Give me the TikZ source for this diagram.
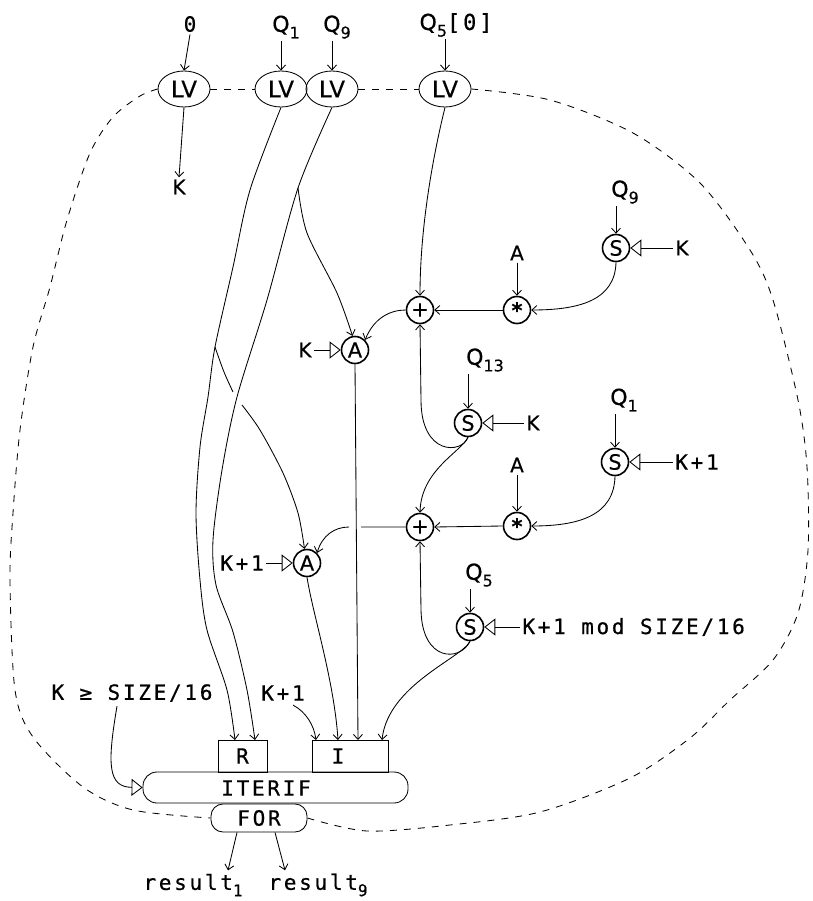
\documentclass[tikz,border=0pt]{standalone}
\usepackage{fontspec}
\usetikzlibrary{arrows.meta,shapes.geometric,calc}
\newfontfamily\monof{DejaVu Sans Mono}[LetterSpace=13,FakeBold=0.6]
\newfontfamily\sansf{DejaVu Sans}[FakeBold=0.4]
\newcommand\sbs[1]{\raisebox{-0.55ex}{\fontsize{16}{16}\selectfont #1}}
\begin{document}
\begin{tikzpicture}[x=1pt,y=-1pt,
  line width=0.85pt,
  >={Straight Barb[length=5pt,width=9pt]},
  tri/.style={-{Triangle[open,length=11pt,width=17pt]}},
  lv/.style={ellipse,draw,minimum width=52pt,minimum height=36pt,inner sep=0pt,font=\sansf\fontsize{23}{23}\selectfont},
  op/.style={circle,draw,line width=1.6pt,minimum size=27pt,inner sep=0pt,font=\sansf\fontsize{21}{21}\selectfont},
  lab/.style={inner sep=2pt,font=\sansf\fontsize{20}{20}\selectfont},
  qlab/.style={inner sep=2pt,font=\sansf\fontsize{22}{22}\selectfont},
  mlab/.style={inner sep=2pt,font=\monof\fontsize{21}{21}\selectfont},
  boxn/.style={draw,rectangle,inner sep=0pt,font=\monof\fontsize{21}{21}\selectfont},
  dashloop/.style={dash pattern=on 7pt off 7pt}
]
\useasboundingbox (0,0) rectangle (812,901);

% LV nodes
\node[lv] (lv1) at (184,89) {LV};
\node[lv] (lv2) at (281,89) {LV};
\node[lv] (lv3) at (332,89) {LV};
\node[lv] (lv4) at (445,89) {LV};

\node[mlab] (l0) at (190,24) {0};
\node[qlab] (lq1) at (286,27) {Q\sbs{1}};
\node[qlab] (lq9) at (337,27) {Q\sbs{9}};
\node[qlab] (lq5) at (456,25) {Q\sbs{5}{\monof[0]}};
\node[lab] (k0) at (179,187) {K};

\draw[->] (l0.south) -- (lv1.north);
\draw[->] (lv2.north |- lq1.south) -- (lv2.north);
\draw[->] (lv3.north |- lq9.south) -- (lv3.north);
\draw[->] (lv4.north |- lq5.south) -- (lv4.north);
\draw[->] (lv1.south) -- (k0.north);

% operators
\node[op] (s1) at (616,248) {S};
\node[qlab] (q9b) at (625,192) {Q\sbs{9}};
\node[lab] (k1) at (682,248) {K};
\node[op] (m1) at (517,310) {\textbf{*}};
\node[lab] (am1) at (517,253) {A};
\node[op] (p1) at (420,310) {+};
\node[op] (a1) at (355,350) {A};
\node[lab] (ka1) at (305,350) {K};
\node[op] (s2) at (468,423) {S};
\node[qlab] (q13) at (485,360) {Q\sbs{13}};
\node[lab] (k2) at (533,423) {K};
\node[op] (s4) at (615,462) {S};
\node[qlab] (q1b) at (624,400) {Q\sbs{1}};
\node[mlab] (k3) at (697,462) {K+1};
\node[op] (p2) at (420,527) {+};
\node[op] (m2) at (517,526) {\textbf{*}};
\node[lab] (am2) at (517,465) {A};
\node[op] (a2) at (307,563) {A};
\node[mlab] (ka2) at (242,563) {K+1};
\node[op] (s3) at (470,627) {S};
\node[qlab] (q5b) at (479,575) {Q\sbs{5}};
\node[mlab,anchor=west] (k4) at (520,627) {K+1 mod SIZE/16};

% label inputs
\draw[->] (s1.north |- q9b.south) -- (s1.north);
\draw[->] (am1.south) -- (m1.north);
\draw[->] (am2.south) -- (m2.north);
\draw[->] (s2.north |- q13.south) -- (s2.north);
\draw[->] (s4.north |- q1b.south) -- (s4.north);
\draw[->] (s3.north |- q5b.south) -- (s3.north);
\draw[tri] (k1.west) -- (s1.east);
\draw[tri] (k2.west) -- (s2.east);
\draw[tri] (k3.west) -- (s4.east);
\draw[tri] (k4.west) -- (s3.east);
\draw[tri] (ka1.east) -- (a1.west);
\draw[tri] (ka2.east) -- (a2.west);

% bottom boxes
\node[draw,rounded corners=14pt,minimum width=265pt,minimum height=31pt,inner sep=0pt] (it) at (275.5,787.5) {};
\node[mlab] (itt) at (266,788) {ITERIF};
\node[boxn,minimum width=49pt,minimum height=32pt] (R) at (242.5,756) {R};
\node[boxn,minimum width=76pt,minimum height=32pt] (I) at (350,756) {};
\node[mlab] (It) at (338,756) {I};
\node[draw,rounded corners=12pt,minimum width=96pt,minimum height=28pt,inner sep=0pt,font=\monof\fontsize{21}{21}\selectfont] (for) at (259,818) {FOR};
\node[mlab] (r1) at (193,885) {result\sbs{1}};
\node[mlab] (r9) at (318,885) {result\sbs{9}};
\node[mlab] (cond) at (132,693) {K ≥ SIZE/16};
\node[mlab] (kb) at (283,693) {K+1};

\coordinate (rp1) at (235,740);
\coordinate (rp2) at (255,740);
\coordinate (ip1) at (316,740);
\coordinate (ip2) at (338,740);
\coordinate (ip3) at (358,740);
\coordinate (ip4) at (382,740);
\coordinate (b2) at (215,347);
\coordinate (b3) at (298,188);

\draw[->] ($(for.south)+(-22,0)$) -- ($(r1.north)+(35,-1)$);
\draw[->] ($(for.south)+(16,0)$) -- ($(r9.north)+(-33,-1)$);
\draw[tri] ($(cond.south)+(-15,2)$) .. controls (107,765) and (108,787) .. (it.west);
\draw[->] ($(kb.south)+(10,2)$) .. controls (306,712) and (314,725) .. (ip1);

% long lines from LV
\draw[->] plot[smooth] coordinates {(lv2.south) (250,190) (233,267) (b2) (208,397) (200,447) (196,513) (200,580) (207,630) (227,690) (rp1)};
\draw[->] plot[smooth] coordinates {(lv3.south) (b3) (267,300) (237,397) (222,470) (213,540) (216,585) (233,632) (247,690) (rp2)};
\draw[->] plot[smooth] coordinates {(b3) (307,233) (337,293) (a1.100)};
\draw[->] plot[smooth] coordinates {(b2) (224,372) (233,392)} plot[smooth] coordinates {(242,405) (260,430) (283,473) (298,513) (a2.100)};
\draw[->] (lv4.south) .. controls (432,160) and (420,230) .. (p1.north);

% operator connections
\draw[->] (s1.south) .. controls (615,300) and (580,310) .. (m1.east);
\draw[->] (s4.south) .. controls (614,515) and (580,526) .. (m2.east);
\draw[->] (m1.west) -- (p1.east);
\draw[->] (m2.west) -- (p2.east);
\draw[->] (p1.west) .. controls (390,310) and (374,318) .. (a1.north east);
\draw[->] (p2.west) -- (361,527) (349,527) .. controls (334,527) and (322,536) .. (a2.north east);
\draw[->] (s2.south) .. controls (462,454) and (421,456) .. (421,400) -- (p1.south);
\draw[->] (s2.south) .. controls (461,452) and (421,470) .. (p2.north);
\draw[->] (s3.south) .. controls (460,662) and (422,662) .. (421,610) -- (p2.south);
\draw[->] (s3.south) .. controls (462,658) and (388,685) .. (ip4);
\draw[->] (a1.south) -- (ip3);
\draw[->] (a2.south) .. controls (313,615) and (334,680) .. (ip2);

% dashed loop
\draw[dashloop] (lv1.east) -- (lv2.west);
\draw[dashloop] (lv3.east) -- (lv4.west);
\draw[dashloop] plot[smooth] coordinates {(lv1.west) (140,96) (113,117) (90,153) (67,220) (50,287) (33,347) (20,430) (13,513) (10,580) (15,690) (33,737) (83,787) (133,810) (for.west)};
\draw[dashloop] plot[smooth] coordinates {(for.east) (367,831) (450,825) (540,812) (630,778) (690,738) (730,700) (773,660) (798,613) (808,550) (807,467) (798,400) (773,300) (750,250) (700,183) (633,133) (550,100) (lv4.east)};
\end{tikzpicture}
\end{document}
